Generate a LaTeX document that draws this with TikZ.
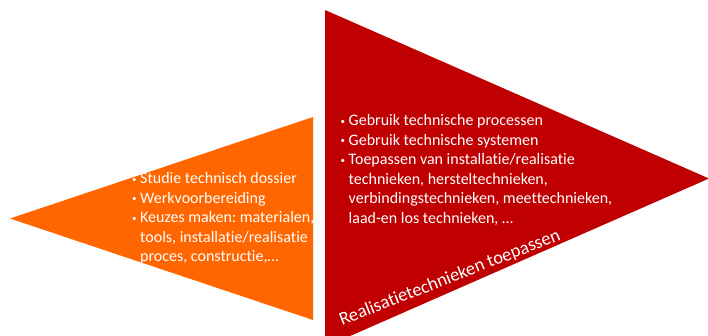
\documentclass[tikz,border=0pt]{standalone}
\usepackage{fontspec}
\setmainfont{Carlito}[Ligatures=NoCommon]
\usepackage{enumitem}
\definecolor{dorange}{HTML}{FF6600}
\definecolor{dred}{HTML}{C00000}
\tikzset{
  bul/.style={anchor=base west, inner sep=0pt, text=white, font=\fontsize{16pt}{19.5pt}\selectfont},
}
\newcommand{\bulletlist}[2]{%
  \begin{minipage}[t]{#1}\raggedright\frenchspacing
  \begin{itemize}[leftmargin=9.5pt,labelsep=3.5pt,itemsep=0pt,parsep=0pt,topsep=0pt,partopsep=0pt,label={\raisebox{0.15ex}{\small\textbullet}}]
  #2
  \end{itemize}\end{minipage}}
\begin{document}
\begin{tikzpicture}[x=1pt,y=-1pt]
\useasboundingbox (0,0) rectangle (708,335);
% orange triangle
\fill[dorange] (10,218.5) -- (313,117) -- (313,320) -- cycle;
% red triangle
\fill[dred] (325,10) -- (709,178.5) -- (325,347) -- cycle;
\node[bul] (left) at (130.5,183.5) {\bulletlist{220pt}{%
  \item Studie technisch dossier
  \item Werkvoorbereiding
  \item Keuzes maken: materialen,\\ tools, installatie/realisatie\\ proces, constructie,\dots}};
\node[bul] (right) at (339,125.5) {\bulletlist{340pt}{%
  \item Gebruik technische processen
  \item Gebruik technische systemen
  \item Toepassen van installatie/realisatie\\ technieken, hersteltechnieken,\\ verbindingstechnieken, meettechnieken,\\ laad-en los technieken, \dots}};
\node[anchor=base west, inner sep=0pt, text=white, font=\fontsize{18.5pt}{20pt}\selectfont, rotate=21.5] (label) at (342,326) {Realisatietechnieken toepassen};
\end{tikzpicture}
\end{document}
